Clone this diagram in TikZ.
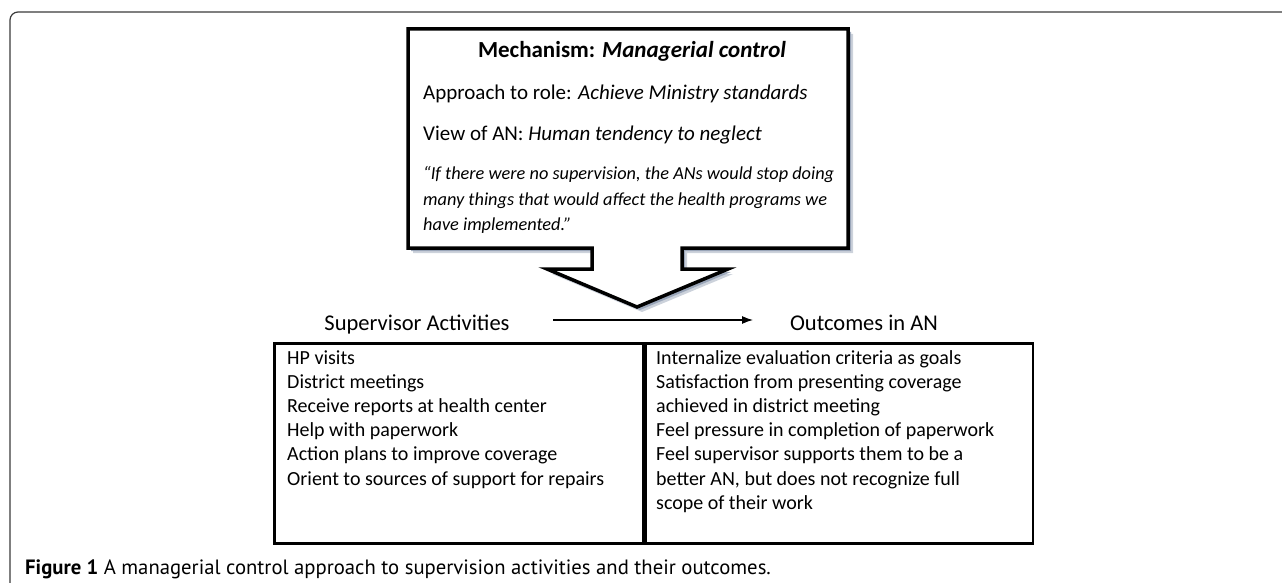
\documentclass[tikz,border=0pt]{standalone}
\usepackage{fontspec}
\setmainfont{Carlito}
\newfontfamily\capfont{PT Sans}
\usetikzlibrary{arrows.meta}

\definecolor{shadowblue}{HTML}{8E9BB0}
\definecolor{framegray}{HTML}{3A3A3A}

\tikzstyle{callout} = [draw=black, line width=3.5pt, fill=white, line join=miter]
\tikzstyle{shade} = [fill=shadowblue, draw=none]
\tikzstyle{head} = [font=\fontsize{23}{24}\selectfont\bfseries, inner sep=0pt, anchor=base]
\tikzstyle{row} = [font=\fontsize{21}{24}\selectfont, inner sep=0pt, anchor=base west]
\tikzstyle{quote} = [font=\fontsize{18.3}{24}\selectfont\itshape, inner sep=0pt, anchor=base west]
\tikzstyle{colhead} = [font=\fontsize{22.5}{24}\selectfont, inner sep=0pt, anchor=base]
\tikzstyle{cell} = [draw=black, line width=2.5pt, minimum height=200pt, inner sep=0pt, anchor=north west]
\tikzstyle{item} = [font=\fontsize{20}{24}\selectfont, inner sep=0pt, anchor=base west]
\tikzstyle{caption} = [font=\capfont\fontsize{20.7}{24}\selectfont, inner sep=0pt, anchor=base west]

\def\calloutpath{(408,29) -- (848,29) -- (848,248) -- (682,248) -- (682,269) -- (728,269)
    -- (637,307) -- (547,269) -- (592,269) -- (592,248) -- (408,248) -- cycle}

\begin{document}
\begin{tikzpicture}[x=1pt, y=-1pt]
    \useasboundingbox (0,0) rectangle (1282,583);

    % outer frame
    \draw[framegray, line width=1.2pt, rounded corners=8pt] (10,583) -- (10,12) -- (1282,12);

    % mechanism callout
    \fill[shade, opacity=0.45, shift={(5,5)}] \calloutpath;
    \fill[shade, opacity=0.8, shift={(3,3)}] \calloutpath;
    \draw[callout] \calloutpath;

    \node[head] (mech) at (632,58) {Mechanism: \textit{Managerial control}};
    \node[row] (role) at (423,100) {Approach to role: \textit{Achieve Ministry standards}};
    \node[row] (view) at (423,141) {View of AN: \textit{Human tendency to neglect}};
    \node[quote] (q1) at (423,179) {``If there were no supervision, the ANs would stop doing};
    \node[quote] (q2) at (423,205) {many things that would affect the health programs we};
    \node[quote] (q3) at (423,230) {have implemented.''};

    % column headings
    \node[colhead] (sup) at (417,330) {Supervisor Activities};
    \node[colhead] (out) at (864,330) {Outcomes in AN};
    \coordinate (from) at (553,320);
    \coordinate (to) at (753,320);
    \draw[line width=1.2pt, -{Latex[length=11pt,width=8pt]}] (from) -- (to);

    % table
    \node[cell, minimum width=369pt] (acts) at (273,342) {};
    \node[cell, minimum width=387pt] (outs) at (acts.north east) {};

    \node[item] (a1) at (287,364) {HP visits};
    \node[item] (a2) at (287,388.2) {District meetings};
    \node[item] (a3) at (287,412.4) {Receive reports at health center};
    \node[item] (a4) at (287,436.6) {Help with paperwork};
    \node[item] (a5) at (287,460.8) {Action plans to improve coverage};
    \node[item] (a6) at (287,485) {Orient to sources of support for repairs};

    \node[item] (o1) at (656,364) {Internalize evaluation criteria as goals};
    \node[item] (o2) at (656,388.2) {Satisfaction from presenting coverage};
    \node[item] (o3) at (656,412.4) {achieved in district meeting};
    \node[item] (o4) at (656,436.6) {Feel pressure in completion of paperwork};
    \node[item] (o5) at (656,460.8) {Feel supervisor supports them to be a};
    \node[item] (o6) at (656,485) {better AN, but does not recognize full};
    \node[item] (o7) at (656,509.2) {scope of their work};

    % caption
    \node[caption] (cap) at (25,574) {\textbf{Figure 1} A managerial control approach to supervision activities and their outcomes.};
\end{tikzpicture}
\end{document}
